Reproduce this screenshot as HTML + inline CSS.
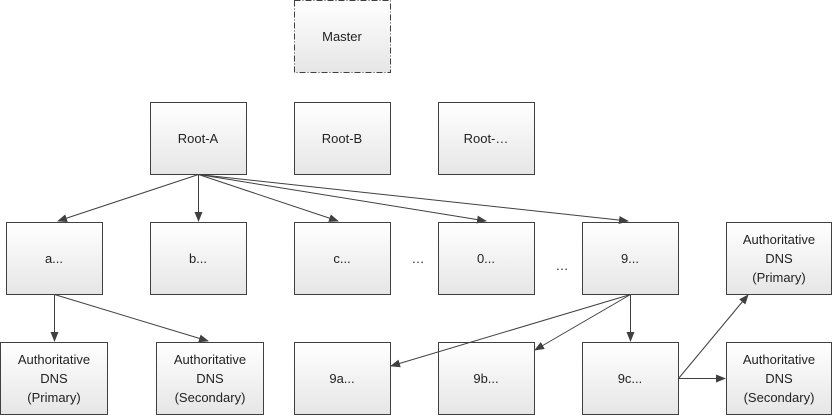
<html><body style="margin:0;background:#fff">
<svg width="834" height="417" xmlns="http://www.w3.org/2000/svg" font-family="Liberation Sans, sans-serif" font-size="13" fill="#222">
<defs>
<linearGradient id="g" x1="0" y1="0" x2="0" y2="1"><stop offset="0" stop-color="#ffffff"/><stop offset="1" stop-color="#e6e6e6"/></linearGradient>
<marker id="m" markerWidth="10" markerHeight="8" refX="9" refY="4" orient="auto" markerUnits="userSpaceOnUse"><path d="M0,0 L10,4 L0,8z" fill="#404040"/></marker>
</defs>
<g stroke="#404040" stroke-width="1" fill="url(#g)">
<rect x="294.5" y="0.5" width="96" height="72" stroke-dasharray="6,2,1,2"/>
<rect x="150.5" y="102.5" width="96" height="72"/>
<rect x="294.5" y="102.5" width="96" height="72"/>
<rect x="438.5" y="102.5" width="96" height="72"/>
<rect x="6.5" y="222.5" width="96" height="72"/>
<rect x="150.5" y="222.5" width="96" height="72"/>
<rect x="294.5" y="222.5" width="96" height="72"/>
<rect x="438.5" y="222.5" width="96" height="72"/>
<rect x="582.5" y="222.5" width="96" height="72"/>
<rect x="726.5" y="222.5" width="105" height="72"/>
<rect x="0.5" y="342.5" width="107" height="72"/>
<rect x="156.5" y="342.5" width="107" height="72"/>
<rect x="294.5" y="342.5" width="96" height="72"/>
<rect x="438.5" y="342.5" width="96" height="72"/>
<rect x="582.5" y="342.5" width="96" height="72"/>
<rect x="726.5" y="342.5" width="105" height="72"/>
</g>
<g stroke="#404040" stroke-width="1" marker-end="url(#m)">
<line x1="198.5" y1="174.5" x2="58" y2="221"/>
<line x1="198.5" y1="174.5" x2="198.5" y2="221"/>
<line x1="198.5" y1="174.5" x2="338" y2="221"/>
<line x1="198.5" y1="174.5" x2="486" y2="221"/>
<line x1="198.5" y1="174.5" x2="628" y2="221"/>
<line x1="54.5" y1="294.5" x2="54.5" y2="341"/>
<line x1="54.5" y1="294.5" x2="208" y2="341"/>
<line x1="630.5" y1="294.5" x2="391" y2="366"/>
<line x1="630.5" y1="294.5" x2="535" y2="350"/>
<line x1="630.5" y1="294.5" x2="630.5" y2="341"/>
<line x1="678.5" y1="378.5" x2="748" y2="295"/>
<line x1="678.5" y1="378.5" x2="725" y2="378.5"/>
</g>
<g text-anchor="middle">
<text x="342" y="41">Master</text>
<text x="198" y="143">Root-A</text>
<text x="342" y="143">Root-B</text>
<text x="486" y="143">Root-…</text>
<text x="54" y="263">a...</text>
<text x="198" y="263">b...</text>
<text x="342" y="263">c...</text>
<text x="486" y="263">0...</text>
<text x="630" y="263">9...</text>
<text x="418" y="263">…</text>
<text x="562" y="270">…</text>
<text x="779" y="244">Authoritative</text><text x="779" y="263">DNS</text><text x="779" y="282">(Primary)</text>
<text x="54" y="364">Authoritative</text><text x="54" y="383">DNS</text><text x="54" y="402">(Primary)</text>
<text x="210" y="364">Authoritative</text><text x="210" y="383">DNS</text><text x="210" y="402">(Secondary)</text>
<text x="342" y="383">9a...</text>
<text x="486" y="383">9b...</text>
<text x="630" y="383">9c...</text>
<text x="779" y="364">Authoritative</text><text x="779" y="383">DNS</text><text x="779" y="402">(Secondary)</text>
</g>
</svg>
</body></html>
